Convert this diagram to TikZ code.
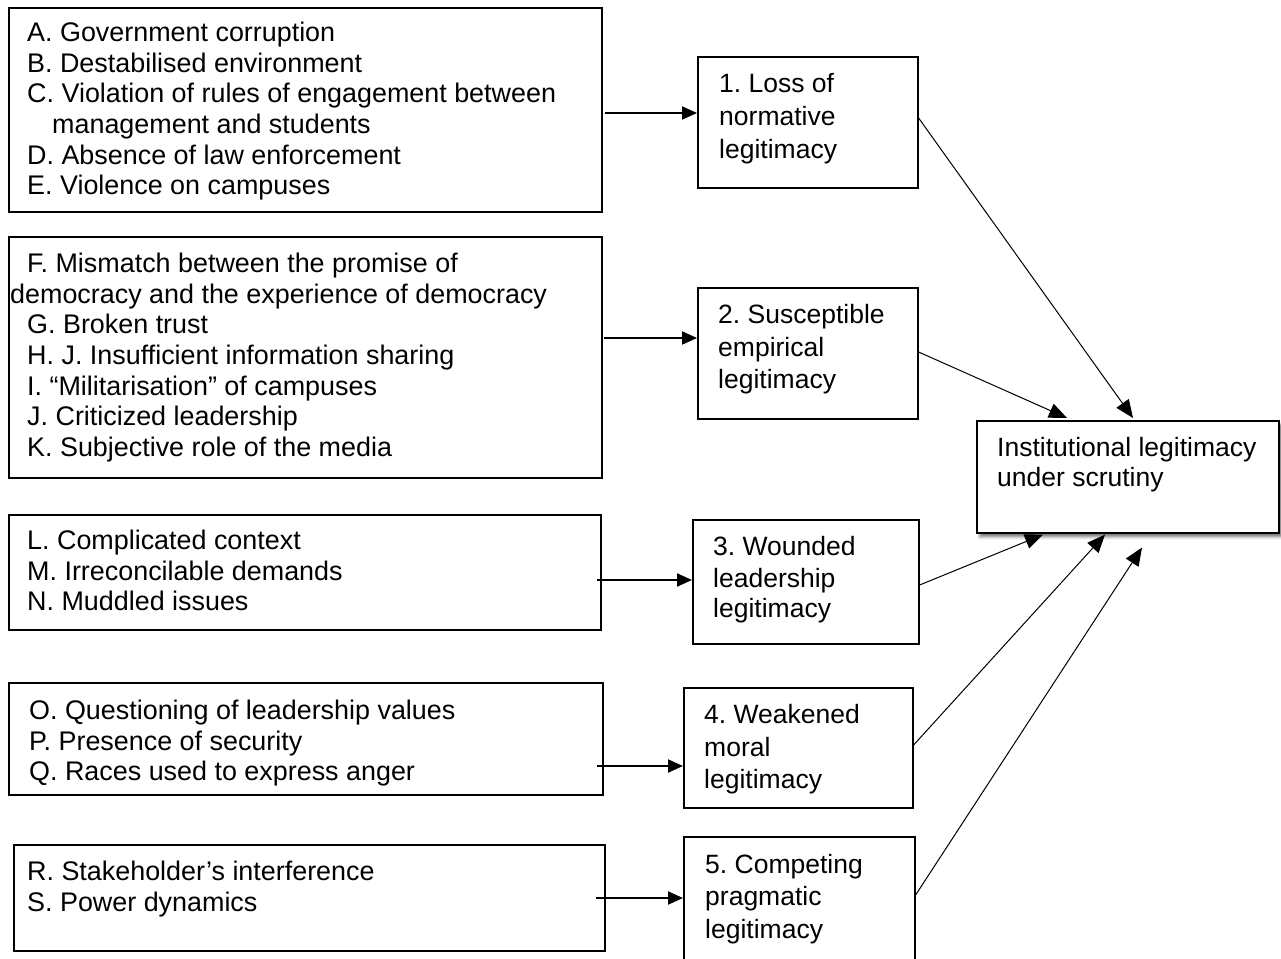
\documentclass[tikz,border=0pt]{standalone}
\usepackage{fontspec}
\setmainfont{Liberation Sans}
\frenchspacing
\usetikzlibrary{arrows.meta,shadows.blur}
\begin{document}
\begin{tikzpicture}[x=1pt,y=-1pt,
  box/.style={draw, line width=1.6pt, inner sep=0pt, anchor=north west},
  txt/.style={inner sep=0pt, anchor=base west, font=\fontsize{26.5}{30}\selectfont},
  ltxt/.style={txt, font=\fontsize{26.9}{30}\selectfont},
  feed/.style={line width=2pt, -{Triangle[length=15pt,width=13pt]}},
  link/.style={line width=1pt, -{Triangle[length=18pt,width=15pt]}},
]
\useasboundingbox (0,0) rectangle (1281,958);

% factor boxes (left column)
\node[box, minimum width=593pt, minimum height=204pt] (A) at (8,7) {};
\node[box, minimum width=593pt, minimum height=241pt] (F) at (8,236) {};
\node[box, minimum width=592pt, minimum height=115pt] (L) at (8,514) {};
\node[box, minimum width=594pt, minimum height=112pt] (O) at (8,682) {};
\node[box, minimum width=591pt, minimum height=106pt] (R) at (13,844) {};

\node[ltxt] (a1) at (27,41.5)  {A. Government corruption};
\node[ltxt] (a2) at (27,72)    {B. Destabilised environment};
\node[ltxt] (a3) at (27,102.5) {C. Violation of rules of engagement between};
\node[ltxt] (a4) at (52,133)   {management and students};
\node[ltxt] (a5) at (27,164)   {D. Absence of law enforcement};
\node[ltxt] (a6) at (27,194.5) {E. Violence on campuses};

\node[ltxt] (f1) at (27,272.5) {F. Mismatch between the promise of};
\node[ltxt] (f2) at (10,303)   {democracy and the experience of democracy};
\node[ltxt] (f3) at (27,333.5) {G. Broken trust};
\node[ltxt] (f4) at (27,364)   {H. J. Insufficient information sharing};
\node[ltxt] (f5) at (27,395)   {I. “Militarisation” of campuses};
\node[ltxt] (f6) at (27,425.5) {J. Criticized leadership};
\node[ltxt] (f7) at (27,456)   {K. Subjective role of the media};

\node[ltxt] (l1) at (27,549.5) {L. Complicated context};
\node[ltxt] (l2) at (27,580)   {M. Irreconcilable demands};
\node[ltxt] (l3) at (27,610.5) {N. Muddled issues};

\node[ltxt] (o1) at (29,719.5) {O. Questioning of leadership values};
\node[ltxt] (o2) at (29,750)   {P. Presence of security};
\node[ltxt] (o3) at (29,780.5) {Q. Races used to express anger};

\node[ltxt] (r1) at (27,880.5) {R. Stakeholder’s interference};
\node[ltxt] (r2) at (27,911)   {S. Power dynamics};

% legitimacy boxes (middle column)
\node[box, minimum width=220pt, minimum height=131pt] (n1) at (697,56) {};
\node[box, minimum width=220pt, minimum height=131pt] (n2) at (697,287) {};
\node[box, minimum width=226pt, minimum height=124pt] (n3) at (692,519) {};
\node[box, minimum width=229pt, minimum height=120pt] (n4) at (683,687) {};
\node[box, minimum width=231pt, minimum height=130pt] (n5) at (683,836) {};

\node[txt] (p11) at (719,92)  {1. Loss of};
\node[txt] (p12) at (719,125) {normative};
\node[txt] (p13) at (719,158) {legitimacy};
\node[txt] (p21) at (718,323) {2. Susceptible};
\node[txt] (p22) at (718,356) {empirical};
\node[txt] (p23) at (718,388) {legitimacy};
\node[txt] (p31) at (713,555) {3. Wounded};
\node[txt] (p32) at (713,587) {leadership};
\node[txt] (p33) at (713,617) {legitimacy};
\node[txt] (p41) at (704,723) {4. Weakened};
\node[txt] (p42) at (704,756) {moral};
\node[txt] (p43) at (704,788) {legitimacy};
\node[txt] (p51) at (705,873) {5. Competing};
\node[txt] (p52) at (705,905) {pragmatic};
\node[txt] (p53) at (705,938) {legitimacy};

% outcome box
\node[box, fill=white, minimum width=302pt, minimum height=112pt,
      blur shadow={shadow xshift=3pt, shadow yshift=-4pt, shadow blur radius=3pt, shadow opacity=55}] (I) at (976,420) {};
\node[txt] (i1) at (997,456) {Institutional legitimacy};
\node[txt] (i2) at (997,486) {under scrutiny};

% feeds from factor groups into legitimacy boxes
\coordinate (ea) at (605,113);
\coordinate (ef) at (604,338);
\coordinate (el) at (597,580);
\coordinate (eo) at (597,766);
\coordinate (er) at (596,898);
\draw[feed] (ea) -- (ea -| n1.west);
\draw[feed] (ef) -- (ef -| n2.west);
\draw[feed] (el) -- (el -| n3.west);
\draw[feed] (eo) -- (eo -| n4.west);
\draw[feed] (er) -- (er -| n5.west);

% links from legitimacy boxes to the outcome
\draw[link] ([yshift=-62pt]n1.north east) -- ([xshift=157pt,yshift=2pt]I.north west);
\draw[link] ([yshift=-65pt]n2.north east) -- ([xshift=91pt,yshift=2pt]I.north west);
\draw[link] ([yshift=-66pt]n3.north east) -- ([xshift=67pt,yshift=-1pt]I.south west);
\draw[link] ([yshift=-58pt]n4.north east) -- ([xshift=129pt,yshift=-1pt]I.south west);
\draw[link] ([yshift=-59pt]n5.north east) -- ([xshift=166pt,yshift=-14pt]I.south west);
\end{tikzpicture}
\end{document}
